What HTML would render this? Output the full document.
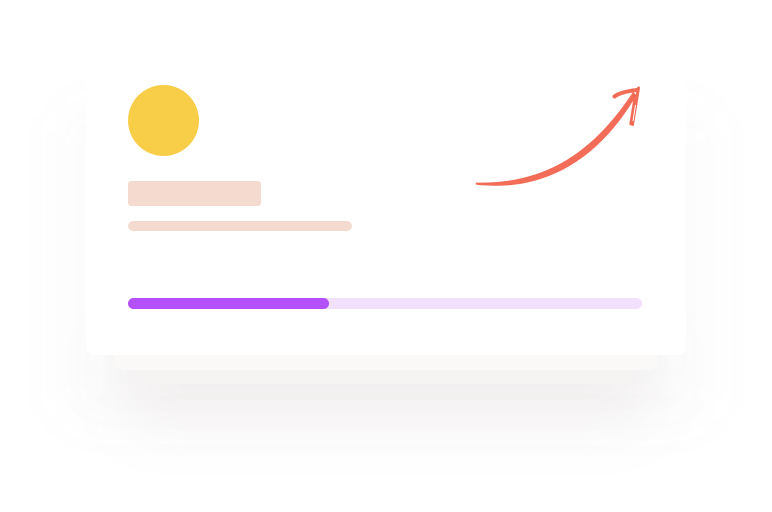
<!DOCTYPE html>
<html lang="en">
<head>
<meta charset="utf-8">
<title>Card illustration</title>
<style>
html,body{margin:0;padding:0;background:#fff;}
#stage{position:relative;width:772px;height:512px;overflow:hidden;background:#fff;}
#stage div{position:absolute;}
.glow{left:66px;top:110px;width:640px;height:310px;border-radius:20px;background:rgba(125,100,95,0.028);filter:blur(26px);}
.glow2{left:125px;top:325px;width:522px;height:95px;border-radius:20px;background:rgba(130,95,90,0.088);filter:blur(30px);}
.layer3{left:142px;top:300px;width:488px;height:84px;border-radius:8px;background:#f6f4f3;}
.layer2{left:114px;top:300px;width:544px;height:70px;border-radius:8px;background:#faf9f8;}
.card{left:86px;top:40px;width:600px;height:315px;border-radius:8px;background:#fff;}
.avatar{left:128px;top:85px;width:71px;height:71px;border-radius:50%;background:#f8cd47;}
.title{left:128px;top:181px;width:133px;height:25px;border-radius:3px;background:#f5dbcf;}
.sub{left:128px;top:220.5px;width:224px;height:10.5px;border-radius:5px;background:#f5dbcf;}
.track{left:128px;top:298px;width:514px;height:11px;border-radius:5.5px;background:#f3e0fd;}
.fill{left:128px;top:298px;width:201px;height:11px;border-radius:5.5px;background:#b350f9;}
svg{position:absolute;left:0;top:0;}
</style>
</head>
<body>
<div id="stage">
  <div class="glow"></div>
  <div class="glow2"></div>
  <div class="layer3"></div>
  <div class="layer2"></div>
  <div class="card"></div>
  <div class="avatar"></div>
  <div class="title"></div>
  <div class="sub"></div>
  <div class="track"></div>
  <div class="fill"></div>
  <svg width="772" height="512" viewBox="0 0 772 512">
    <path d="M476 182.6 C542 184 591 156 633 92 L636.5 95 C597 163 543 188 490 185.6 C484 185.4 478 185.2 476.5 184.6 C475.5 184 475.5 183 476 182.6 Z" fill="#f26c57"/>
    <path d="M614.5 96.5 C619 93 628 91 637 90" fill="none" stroke="#f26c57" stroke-width="4" stroke-linecap="round"/>
    <path d="M638.5 88 L632.5 124.5" fill="none" stroke="#f26c57" stroke-width="3" stroke-linecap="round"/>
    <path d="M635 96 L630.5 124" fill="none" stroke="#f26c57" stroke-width="2.4" stroke-linecap="round"/>
    <path d="M635.5 105 L633 121" fill="none" stroke="#ffffff" stroke-width="1"/>
  </svg>
</div>
</body>
</html>
